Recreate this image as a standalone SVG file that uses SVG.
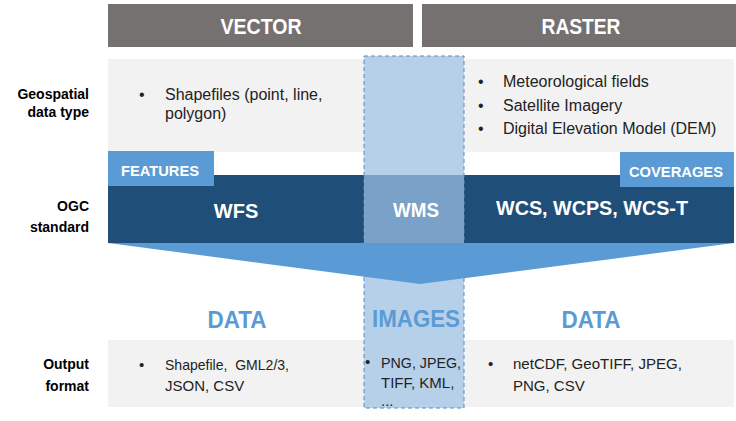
<svg xmlns="http://www.w3.org/2000/svg" width="736" height="421" viewBox="0 0 736 421">
<style>
text{font-family:"Liberation Sans",Arial,sans-serif}
.hdr{fill:#767171}
.hdrt{fill:#fff;font-weight:bold;font-size:22px;text-anchor:middle}
.band{fill:#f2f2f2}
.lbl{fill:#000;font-weight:bold;font-size:14px;text-anchor:end}
.body{fill:#222;font-size:16px}
.out{fill:#222;font-size:15px}
.tag{fill:#5b9bd5}
.tagt{fill:#fff;font-weight:bold;font-size:15px}
.std{fill:#fff;font-weight:bold;font-size:20px;text-anchor:middle}
.big{fill:#5b9bd5;font-weight:bold;font-size:24px;text-anchor:middle}
</style>
<rect width="736" height="421" fill="#fff"/>
<g id="header-vector"><rect class="hdr" x="108" y="4" width="305" height="43"/><text class="hdrt" x="261" y="34" textLength="81" lengthAdjust="spacingAndGlyphs">VECTOR</text></g>
<g id="header-raster"><rect class="hdr" x="422" y="4" width="314" height="43"/><text class="hdrt" x="581" y="34" textLength="79" lengthAdjust="spacingAndGlyphs">RASTER</text></g>
<g id="row-labels">
<text class="lbl" x="89" y="99">Geospatial</text><text class="lbl" x="89" y="117">data type</text>
<text class="lbl" x="89" y="211">OGC</text><text class="lbl" x="89" y="232">standard</text>
<text class="lbl" x="89" y="369">Output</text><text class="lbl" x="89" y="391">format</text>
</g>
<g id="datatype-band"><rect class="band" x="108" y="59" width="626" height="93"/></g>
<g id="output-band"><rect class="band" x="108" y="340" width="626" height="67"/></g>
<g id="ogc-band"><rect x="108" y="175" width="626" height="68" fill="#1f4e79"/></g>
<g id="wms-column">
<rect x="364" y="56" width="100" height="352" fill="#b6d0ea" stroke="#5b8cc0" stroke-width="1" stroke-dasharray="4 3"/>
<rect x="364" y="175" width="100" height="68" fill="#7aa2c8"/>
</g>
<g id="connectors"><polygon points="108,243 734,243 420,284" fill="#5b9bd5"/></g>
<g id="features-tag"><rect class="tag" x="108" y="151" width="106" height="35"/><text class="tagt" x="121" y="176" textLength="78" lengthAdjust="spacingAndGlyphs">FEATURES</text></g>
<g id="coverages-tag"><rect class="tag" x="620" y="152" width="114" height="35"/><text class="tagt" x="629" y="177" textLength="94" lengthAdjust="spacingAndGlyphs">COVERAGES</text></g>
<g id="vector-datatype">
<text class="body" x="139" y="100">•</text>
<text class="body" x="165" y="100">Shapefiles (point, line,</text>
<text class="body" x="165" y="119">polygon)</text>
</g>
<g id="raster-datatype">
<text class="body" x="478" y="87">•</text><text class="body" x="503" y="87">Meteorological fields</text>
<text class="body" x="478" y="111">•</text><text class="body" x="503" y="111">Satellite Imagery</text>
<text class="body" x="478" y="134">•</text><text class="body" x="503" y="134">Digital Elevation Model (DEM)</text>
</g>
<g id="wfs"><text class="std" x="236" y="218">WFS</text></g>
<g id="wms"><text class="std" x="416" y="217" textLength="46" lengthAdjust="spacingAndGlyphs">WMS</text></g>
<g id="wcs"><text class="std" x="592" y="215" textLength="192" lengthAdjust="spacingAndGlyphs">WCS, WCPS, WCS-T</text></g>
<g id="vector-data"><text class="big" x="237" y="328" textLength="59" lengthAdjust="spacingAndGlyphs">DATA</text></g>
<g id="images"><text class="big" x="416" y="327" textLength="88" lengthAdjust="spacingAndGlyphs">IMAGES</text></g>
<g id="raster-data"><text class="big" x="591" y="328" textLength="59" lengthAdjust="spacingAndGlyphs">DATA</text></g>
<g id="vector-output">
<text class="out" x="139" y="370">•</text>
<text class="out" x="165" y="370" style="white-space:pre" textLength="124" lengthAdjust="spacingAndGlyphs">Shapefile,  GML2/3,</text>
<text class="out" x="165" y="391">JSON, CSV</text>
</g>
<g id="images-output">
<text class="out" x="365" y="367">•</text>
<text class="out" x="381" y="368" textLength="80" lengthAdjust="spacingAndGlyphs">PNG, JPEG,</text>
<text class="out" x="381" y="388">TIFF, KML,</text>
<text class="out" x="381" y="406">...</text>
</g>
<g id="raster-output">
<text class="out" x="488" y="369">•</text>
<text class="out" x="513" y="369" textLength="169" lengthAdjust="spacingAndGlyphs">netCDF, GeoTIFF, JPEG,</text>
<text class="out" x="513" y="391">PNG, CSV</text>
</g>
</svg>
